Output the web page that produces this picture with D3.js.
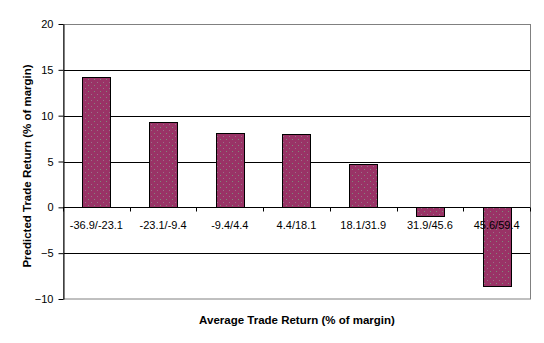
<!DOCTYPE html>
<html>
<head>
<meta charset="utf-8">
<script src="https://cdn.jsdelivr.net/npm/d3@7"></script>
<style>
  body { margin: 0; background: #fff; }
  svg { display: block; font-family: "Liberation Sans", Arial, sans-serif; }
</style>
</head>
<body>
<div id="chart"></div>
<script>
// data
var categories = ["-36.9/-23.1", "-23.1/-9.4", "-9.4/4.4", "4.4/18.1", "18.1/31.9", "31.9/45.6", "45.6/59.4"];
var predicted = [14.2, 9.3, 8.1, 8.0, 4.7, -1.0, -8.6];
var yTicks = [-10, -5, 0, 5, 10, 15, 20];

var W = 544, H = 343;
var margin = {top: 24, right: 14, bottom: 44, left: 63},
    width = W - margin.left - margin.right,
    height = H - margin.top - margin.bottom;

var svg = d3.select("#chart").append("svg").attr("width", W).attr("height", H);

// sparse gray dots on the bar fill
var defs = svg.append("defs");
var pat = defs.append("pattern").attr("id", "dots").attr("patternUnits", "userSpaceOnUse")
  .attr("width", 6).attr("height", 6);
pat.append("rect").attr("width", 6).attr("height", 6).attr("fill", "#993366");
pat.append("rect").attr("x", 1).attr("y", 1).attr("width", 1).attr("height", 1).attr("fill", "#7f8a7a");
pat.append("rect").attr("x", 4).attr("y", 4).attr("width", 1).attr("height", 1).attr("fill", "#9a7088");

var g = svg.append("g").attr("transform", "translate(" + margin.left + "," + margin.top + ")");

var x = d3.scaleBand().domain(categories).range([0, width]).paddingInner(0.58).paddingOuter(0.29);
var y = d3.scaleLinear().domain([-10, 20]).range([height, 0]);

// gridlines
g.selectAll(".grid").data(yTicks.filter(function(d){ return d != -10 && d != 20 && d != 0; }))
  .enter().append("line")
  .attr("x1", 0).attr("x2", width)
  .attr("y1", function(d){ return Math.round(y(d)) + 0.5; })
  .attr("y2", function(d){ return Math.round(y(d)) + 0.5; })
  .attr("stroke", "#000").attr("stroke-width", 1);

// plot border (gray)
g.append("rect").attr("x", 0.5).attr("y", 0.5).attr("width", width).attr("height", height - 0.5)
  .attr("fill", "none").attr("stroke", "#808080").attr("stroke-width", 1);

// bars
g.selectAll(".bar").data(predicted).enter().append("rect")
  .attr("x", function(d, i){ return Math.round(x(categories[i])) + 0.5; })
  .attr("width", Math.round(x.bandwidth()))
  .attr("y", function(d){ return Math.round(y(Math.max(0, d))) + 0.5; })
  .attr("height", function(d){ return Math.round(Math.abs(y(d) - y(0))); })
  .attr("fill", "url(#dots)")
  .attr("stroke", "#000").attr("stroke-width", 1);

// y axis
var yAxis = g.append("g").attr("transform", "translate(0.5,0)")
  .call(d3.axisLeft(y).tickValues(yTicks).tickSize(5).tickSizeOuter(0));
yAxis.select(".domain").attr("stroke", "#000");
yAxis.selectAll("line").attr("stroke", "#000");
yAxis.selectAll("text").attr("font-size", "11px").attr("fill", "#000").attr("dx", "-2px")
  .attr("font-family", "'Liberation Sans', Arial, sans-serif");

// zero line as category axis
var boundaries = categories.map(function(c, i){ return i * width / categories.length; }).concat([width]);
var zy = Math.round(y(0)) + 0.5;
g.append("line").attr("x1", 0).attr("x2", width).attr("y1", zy).attr("y2", zy).attr("stroke", "#000");
g.selectAll(".xtick").data(boundaries).enter().append("line")
  .attr("x1", function(d){ return Math.round(d) + 0.5; })
  .attr("x2", function(d){ return Math.round(d) + 0.5; })
  .attr("y1", zy).attr("y2", zy + 4).attr("stroke", "#000");

g.selectAll(".xlab").data(categories).enter().append("text")
  .attr("x", function(d){ return x(d) + x.bandwidth() / 2; })
  .attr("y", zy + 21)
  .attr("text-anchor", "middle").attr("font-size", "11px").attr("fill", "#000")
  .text(function(d){ return d; });

// axis titles
svg.append("text").attr("x", 297).attr("y", 324)
  .attr("text-anchor", "middle").attr("font-size", "11.5px").attr("font-weight", "bold")
  .text("Average Trade Return (% of margin)");

svg.append("text").attr("transform", "translate(31,166) rotate(-90)")
  .attr("text-anchor", "middle").attr("font-size", "11.5px").attr("font-weight", "bold")
  .text("Predicted Trade Return (% of margin)");
</script>
</body>
</html>
